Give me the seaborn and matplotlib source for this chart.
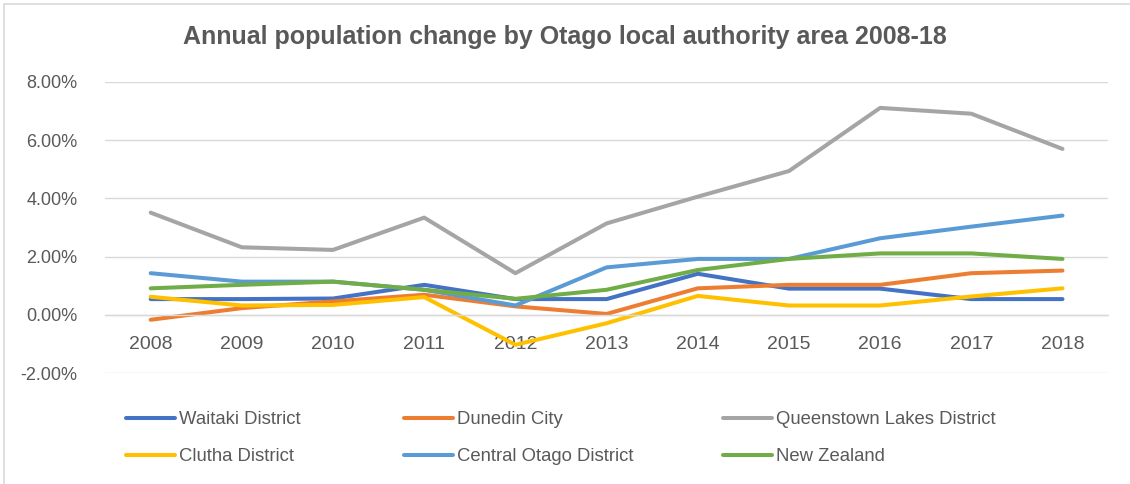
import pandas as pd
import seaborn as sns
import matplotlib.pyplot as plt
from matplotlib.lines import Line2D

YEARS = list(range(2008, 2019))

WAITAKI = [0.54, 0.54, 0.56, 1.03, 0.54, 0.54, 1.41, 0.90, 0.90, 0.54, 0.54]
DUNEDIN = [-0.17, 0.23, 0.46, 0.69, 0.29, 0.03, 0.91, 1.03, 1.03, 1.43, 1.52]
QUEENSTOWN = [3.51, 2.32, 2.23, 3.34, 1.43, 3.14, 4.06, 4.94, 7.11, 6.91, 5.70]
CLUTHA = [0.62, 0.32, 0.34, 0.61, -1.03, -0.29, 0.65, 0.32, 0.32, 0.63, 0.91]
CENTRAL_OTAGO = [1.43, 1.14, 1.14, 0.86, 0.32, 1.63, 1.92, 1.92, 2.63, 3.03, 3.41]
NEW_ZEALAND = [0.91, 1.03, 1.14, 0.86, 0.55, 0.86, 1.54, 1.92, 2.11, 2.11, 1.92]

SERIES = {
    "Waitaki District": WAITAKI,
    "Dunedin City": DUNEDIN,
    "Queenstown Lakes District": QUEENSTOWN,
    "Clutha District": CLUTHA,
    "Central Otago District": CENTRAL_OTAGO,
    "New Zealand": NEW_ZEALAND,
}
COLORS = {
    "Waitaki District": "#4472C4",
    "Dunedin City": "#ED7D31",
    "Queenstown Lakes District": "#A5A5A5",
    "Clutha District": "#FFC000",
    "Central Otago District": "#5B9BD5",
    "New Zealand": "#70AD47",
}
Y_TICKS = [-2, 0, 2, 4, 6, 8]

TEXT = "#595959"
GRID = "#D9D9D9"

sns.set_style("white")
plt.rcParams["font.family"] = ["Liberation Sans", "DejaVu Sans"]

df = pd.concat(
    [pd.DataFrame({"Year": YEARS, "Change": v, "Area": k}) for k, v in SERIES.items()]
)

fig = plt.figure(figsize=(11.3, 4.84), dpi=100)
ax = fig.add_axes([0.093, 0.2293, 0.8876, 0.6013])

sns.lineplot(
    data=df, x="Year", y="Change", hue="Area", hue_order=list(SERIES),
    palette=COLORS, linewidth=2.9, legend=False, ax=ax,
)
for line in ax.get_lines():
    line.set_solid_capstyle("round")
    line.set_solid_joinstyle("round")

ax.set_xlim(YEARS[0] - 0.5, YEARS[-1] + 0.5)
ax.set_ylim(Y_TICKS[0], Y_TICKS[-1])
ax.set_xticks(YEARS)
ax.set_yticks(Y_TICKS)
ax.set_yticklabels([f"{t:.2f}%" for t in Y_TICKS])
ax.set_xlabel("")
ax.set_ylabel("")

ax.grid(True, axis="y", color=GRID, linewidth=1)
ax.set_axisbelow(True)
for side in ["left", "right", "top"]:
    ax.spines[side].set_visible(False)
# category axis crosses at zero, labels hang just under it
ax.spines["bottom"].set_position(("data", 0))
ax.spines["bottom"].set_color(GRID)
ax.spines["bottom"].set_linewidth(1)
ax.tick_params(axis="x", length=0, pad=15, labelsize=14, labelcolor=TEXT)
ax.tick_params(axis="y", length=0, pad=20, labelsize=13, labelcolor=TEXT)

fig.text(0.5, 1 - 37 / 484, "Annual population change by Otago local authority area 2008-18",
         ha="center", va="center", fontsize=18, fontweight="bold", color=TEXT)

lines = dict(zip(SERIES, ax.get_lines()))
columns = [
    (126, ["Waitaki District", "Clutha District"]),
    (404, ["Dunedin City", "Central Otago District"]),
    (723, ["Queenstown Lakes District", "New Zealand"]),
]
for x0, names in columns:
    fig.legend(
        [lines[n] for n in names], names,
        loc="upper left", bbox_to_anchor=(x0 / 1130, 1 - 411 / 484),
        frameon=False, borderpad=0, borderaxespad=0, fontsize=13.3,
        handlelength=2.66, handletextpad=0.22, labelspacing=1.1,
        labelcolor=TEXT,
    )

# chart border: only left and top edges are visible in the crop
fig.add_artist(Line2D([4 / 1130, 4 / 1130], [0, 1 - 3.5 / 484],
                      transform=fig.transFigure, color=GRID, linewidth=1.2))
fig.add_artist(Line2D([4 / 1130, 1], [1 - 3.5 / 484, 1 - 3.5 / 484],
                      transform=fig.transFigure, color=GRID, linewidth=1.2))

fig.savefig("out.png", dpi=100)
